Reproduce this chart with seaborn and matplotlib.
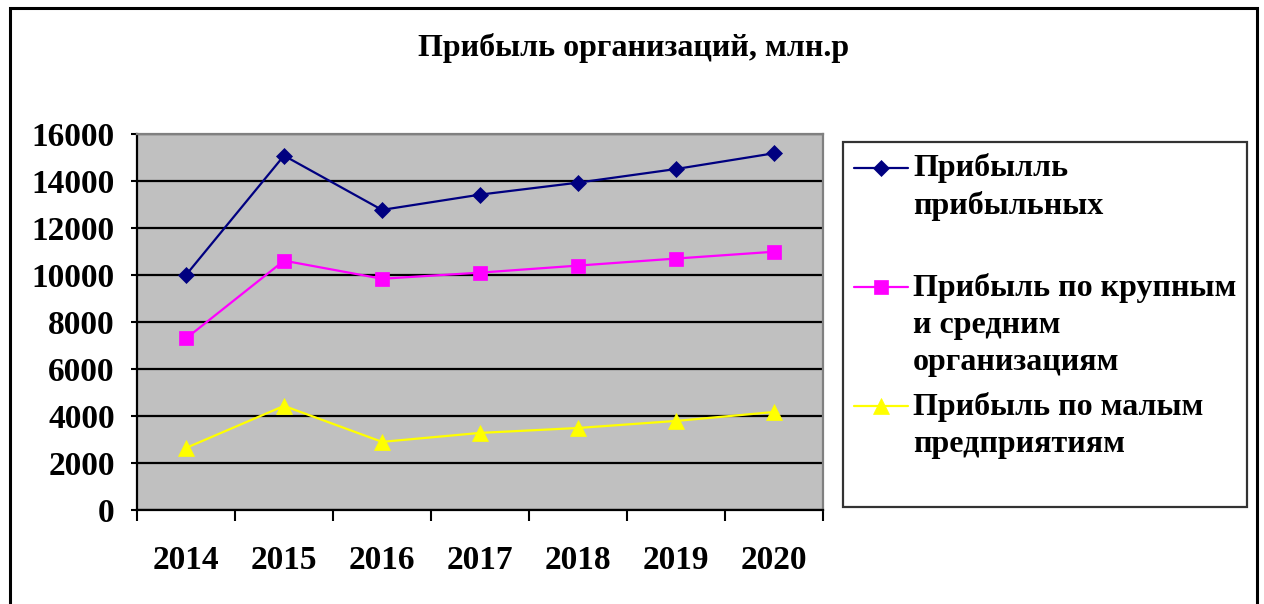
import numpy as np
import pandas as pd
import matplotlib
matplotlib.use("Agg")
import matplotlib.pyplot as plt
import seaborn as sns
from matplotlib.legend_handler import HandlerLine2D
from matplotlib.patches import Rectangle
from matplotlib.ticker import FixedLocator

# ---- data ----
years = [2014, 2015, 2016, 2017, 2018, 2019, 2020]
profit_profitable = [10000, 15080, 12770, 13420, 13930, 14510, 15180]
profit_large_medium = [7300, 10610, 9840, 10100, 10400, 10700, 10990]
profit_small = [2640, 4430, 2900, 3280, 3490, 3790, 4170]
series_labels = [
    "Прибылль\nприбыльных\n ",
    "Прибыль по крупным\nи средним\nорганизациям",
    "Прибыль по малым\nпредприятиям\n ",
]
y_ticks = [0, 2000, 4000, 6000, 8000, 10000, 12000, 14000, 16000]
title_text = "Прибыль организаций, млн.р"

colors = ["#000080", "#FF00FF", "#FFFF00"]
markers = ["D", "s", "^"]
msizes = [7.8, 10.5, 11.5]

sns.set_theme(style="white")
plt.rcParams["font.family"] = ["Liberation Serif", "DejaVu Serif"]
plt.rcParams["font.weight"] = "bold"
for k in ["text.color", "axes.labelcolor", "xtick.color", "ytick.color"]:
    plt.rcParams[k] = "black"

fig = plt.figure(figsize=(12.64, 6.04), dpi=100)
fig.patch.set_facecolor("white")
ax = fig.add_axes([137 / 1264, 1 - 510 / 604, (823 - 137) / 1264, (510 - 134) / 604])
ax.set_facecolor("#C0C0C0")

series = [profit_profitable, profit_large_medium, profit_small]
for vals, c, m, ms in zip(series, colors, markers, msizes):
    df = pd.DataFrame({"year": years, "value": vals})
    sns.lineplot(data=df, x="year", y="value", ax=ax, color=c, marker=m,
                 markersize=ms, markeredgecolor=c, markeredgewidth=0.5,
                 linewidth=1.6, legend=False)

ax.set_xlim(years[0] - 0.5, years[-1] + 0.5)
ax.set_ylim(0, 16000)
ax.set_xticks(years)
ax.set_xticklabels([str(y) for y in years])
ax.xaxis.set_minor_locator(FixedLocator([y - 0.5 for y in years] + [years[-1] + 0.5]))
ax.set_yticks(y_ticks)
ax.set_yticklabels([str(v) for v in y_ticks])
ax.set_xlabel("")
ax.set_ylabel("")

ax.tick_params(axis="x", which="major", length=0, pad=25, labelsize=24, labelcolor="black")
ax.tick_params(axis="x", which="minor", length=8, width=1.5, color="black", direction="out", bottom=True)
ax.tick_params(axis="y", which="major", length=4, width=1.5, color="black", direction="out", left=True,
               pad=12, labelsize=24, labelcolor="black")
for lab in ax.get_xticklabels() + ax.get_yticklabels():
    lab.set_fontweight("bold")

ax.yaxis.grid(True, color="black", linewidth=1.6)
ax.xaxis.grid(False)
ax.set_axisbelow(True)
for side in ["left", "bottom"]:
    ax.spines[side].set_color("black")
    ax.spines[side].set_linewidth(1.6)
for side in ["top", "right"]:
    ax.spines[side].set_color("#808080")
    ax.spines[side].set_linewidth(1.6)


class FirstLineHandler(HandlerLine2D):
    def __init__(self, dy, **kw):
        super().__init__(**kw)
        self.dy = dy

    def create_artists(self, legend, orig_handle, xdescent, ydescent, width, height, fontsize, trans):
        arts = super().create_artists(legend, orig_handle, xdescent, ydescent, width, height, fontsize, trans)
        for a in arts:
            a.set_ydata(np.asarray(a.get_ydata(), dtype=float) + self.dy)
        return arts


fs = 23
lsp = 1.37
line_pt = 37.5 * 72 / 100
handles = ax.lines[:3]
hmap = {h: FirstLineHandler(line_pt) for h in handles}
leg = fig.legend(handles, series_labels, loc="upper left",
                 bbox_to_anchor=(843 / 1264, 1 - 142 / 604), bbox_transform=fig.transFigure,
                 borderaxespad=0, frameon=True, fancybox=False, shadow=False,
                 prop={"family": "Liberation Serif", "weight": "bold", "size": fs},
                 handlelength=1.7, handletextpad=0.15, borderpad=0.34, labelspacing=0.45,
                 handler_map=hmap)
for t in leg.get_texts():
    t.set_linespacing(lsp)
    t.set_color("black")
leg.get_frame().set_edgecolor("black")
leg.get_frame().set_linewidth(1.6)
leg.get_frame().set_facecolor("white")

fig.text(634 / 1264, 1 - 48 / 604, title_text, ha="center", va="center",
         fontsize=23, fontweight="bold", family="Liberation Serif", color="black")

fig.patches.append(Rectangle((10 / 1264, -0.05), (1257 - 10) / 1264, 1 - 8 / 604 + 0.05,
                             transform=fig.transFigure, fill=False, edgecolor="black",
                             linewidth=2.2, zorder=10))

fig.savefig("out.png", dpi=100)
